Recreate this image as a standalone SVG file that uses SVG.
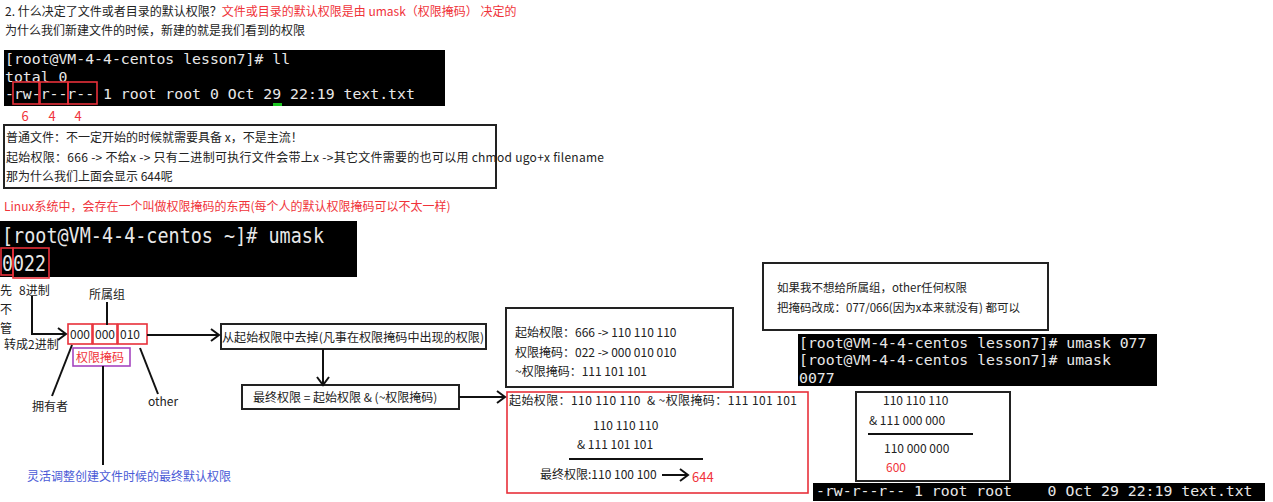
<svg xmlns="http://www.w3.org/2000/svg" width="1273" height="502" viewBox="0 0 1273 502">
<style>
.t{font-family:"Noto Sans CJK SC","Noto Sans",sans-serif;font-size:12px;fill:#222;white-space:pre}
.s{font-size:11.5px}
.n{font-size:13px}
.red{fill:#f0333a}
.blue{fill:#4a5ad6}
.term{fill:#000}
.mono{font-family:"DejaVu Sans Mono","Liberation Mono",monospace;font-size:14.8px;fill:#e8e8e8;white-space:pre}
.box{fill:#fff;stroke:#222;stroke-width:2}
.rbox{fill:none;stroke:#e8303a;stroke-width:1.6}
.ln{stroke:#111;stroke-width:2;fill:none}
</style>
<defs>
<marker id="ch" markerUnits="userSpaceOnUse" markerWidth="12" markerHeight="14" refX="10" refY="7" orient="auto">
<path d="M2,1 L10,7 L2,13" fill="none" stroke="#111" stroke-width="2"/>
</marker>
</defs>
<rect width="1273" height="502" fill="#fff"/>

<g id="title">
<text class="t" x="5" y="16">2. 什么决定了文件或者目录的默认权限？<tspan class="red">文件或目录的默认权限是由 umask（权限掩码） 决定的</tspan></text>
<text class="t" x="5" y="35">为什么我们新建文件的时候，新建的就是我们看到的权限</text>
</g>

<g id="terminal1">
<rect class="term" x="4" y="50" width="441" height="56"/>
<text class="mono" x="5" y="64">[root@VM-4-4-centos lesson7]# ll</text>
<text class="mono" x="5" y="82">total 0</text>
<text class="mono" x="5" y="99">-rw-r--r-- 1 root root 0 Oct 29 22:19 text.txt</text>
<rect x="273" y="103" width="9" height="3" fill="#19c21f"/>
<rect class="rbox" x="13" y="82" width="26" height="22"/>
<rect class="rbox" x="40" y="82" width="28" height="22"/>
<rect class="rbox" x="68" y="82" width="29" height="22"/>
<text class="t n red" x="25" y="121" text-anchor="middle">6</text>
<text class="t n red" x="52" y="121" text-anchor="middle">4</text>
<text class="t n red" x="78" y="121" text-anchor="middle">4</text>
</g>

<g id="note1">
<rect class="box" x="4" y="125" width="492" height="63"/>
<text class="t" x="6" y="142">普通文件：不一定开始的时候就需要具备 x，不是主流！</text>
<text class="t" x="6" y="162" textLength="598" lengthAdjust="spacing">起始权限：666 -&gt; 不给x -&gt; 只有二进制可执行文件会带上x -&gt;其它文件需要的也可以用 chmod ugo+x filename</text>
<text class="t" x="6" y="181">那为什么我们上面会显示 644呢</text>
</g>

<g id="linux-note">
<text class="t red" x="4" y="211">Linux系统中，会存在一个叫做权限掩码的东西(每个人的默认权限掩码可以不太一样)</text>
</g>

<g id="terminal2">
<rect class="term" x="0" y="221" width="357" height="56"/>
<text class="mono" x="2" y="243" style="font-size:22px" textLength="322" lengthAdjust="spacingAndGlyphs">[root@VM-4-4-centos ~]# umask</text>
<text class="mono" x="2" y="271" style="font-size:22px" textLength="44" lengthAdjust="spacingAndGlyphs">0022</text>
<rect class="rbox" x="1" y="248" width="12" height="27"/>
<rect class="rbox" x="13" y="248" width="36" height="30"/>
</g>

<g id="labels-left">
<text class="t" x="0" y="295">先</text>
<text class="t" x="0" y="314">不</text>
<text class="t" x="0" y="333">管</text>
<text class="t" x="19" y="295">8进制</text>
<text class="t" x="4" y="349">转成2进制</text>
<text class="t" x="89" y="299">所属组</text>
<text class="t" x="32" y="411">拥有者</text>
<text class="t" x="148" y="406">other</text>
<text class="t blue" x="27" y="481">灵活调整创建文件时候的最终默认权限</text>
</g>

<g id="mask-bits">
<rect class="rbox" x="68" y="324" width="24" height="20"/>
<rect class="rbox" x="93" y="324" width="24" height="20"/>
<rect class="rbox" x="118" y="324" width="29" height="20"/>
<text class="t" x="70" y="339">000</text>
<text class="t" x="95" y="339">000</text>
<text class="t" x="120" y="339">010</text>
<rect x="73" y="348" width="57" height="18" fill="none" stroke="#a545c0" stroke-width="1.6"/>
<text class="t red" x="76" y="362">权限掩码</text>
</g>

<g id="remove-box">
<rect class="box" x="221" y="324" width="265" height="25"/>
<text class="t" x="222" y="342" textLength="262" lengthAdjust="spacingAndGlyphs">从起始权限中去掉(凡事在权限掩码中出现的权限)</text>
</g>

<g id="final-box">
<rect class="box" x="242" y="385" width="217" height="24"/>
<text class="t" x="253" y="402">最终权限 = 起始权限 &amp; (~权限掩码)</text>
</g>

<g id="calc-box">
<rect class="box" x="506" y="308" width="227" height="79"/>
<text class="t" x="515" y="337">起始权限：666 -&gt; 110 110 110</text>
<text class="t" x="515" y="357">权限掩码：022 -&gt; 000 010 010</text>
<text class="t" x="515" y="376">~权限掩码：111 101 101</text>
</g>

<g id="result-box">
<rect class="rbox" x="507" y="392" width="301" height="101"/>
<text class="t" x="509" y="405" textLength="288" lengthAdjust="spacing">起始权限：110 110 110  &amp; ~权限掩码：111 101 101</text>
<text class="t" x="593" y="430">110 110 110</text>
<text class="t" x="577" y="449">&amp; 111 101 101</text>
<line class="ln" x1="569" y1="459" x2="703" y2="459"/>
<text class="t" x="540" y="479">最终权限:110 100 100</text>
<text class="t n red" x="692" y="482">644</text>
</g>

<g id="note2">
<rect class="box" x="763" y="263" width="285" height="67"/>
<text class="t s" x="777" y="292">如果我不想给所属组，other任何权限</text>
<text class="t s" x="777" y="312">把掩码改成：077/066(因为x本来就没有) 都可以</text>
</g>

<g id="terminal3">
<rect class="term" x="798" y="334" width="359" height="52"/>
<text class="mono" x="799" y="348">[root@VM-4-4-centos lesson7]# umask 077</text>
<text class="mono" x="799" y="365">[root@VM-4-4-centos lesson7]# umask</text>
<text class="mono" x="799" y="383">0077</text>
</g>

<g id="calc2-box">
<rect class="box" x="856" y="392" width="154" height="89"/>
<text class="t" x="883" y="405">110 110 110</text>
<text class="t" x="869" y="425">&amp; 111 000 000</text>
<line class="ln" x1="868" y1="434" x2="973" y2="434"/>
<text class="t" x="884" y="453">110 000 000</text>
<text class="t red" x="886" y="472">600</text>
</g>

<g id="terminal4">
<rect class="term" x="813" y="483" width="452" height="18"/>
<text class="mono" x="816" y="496">-rw-r--r-- 1 root root    0 Oct 29 22:19 text.txt</text>
</g>

<g id="connectors">
<polyline class="ln" points="32,296 32,334 66,334" marker-end="url(#ch)"/>
<line class="ln" x1="107" y1="302" x2="107" y2="325"/>
<line class="ln" x1="72" y1="345" x2="52" y2="396"/>
<line class="ln" x1="140" y1="348" x2="158" y2="394"/>
<line class="ln" x1="103" y1="366" x2="103" y2="465"/>
<line class="ln" x1="147" y1="335" x2="219" y2="335" marker-end="url(#ch)"/>
<line class="ln" x1="323" y1="349" x2="323" y2="385" marker-end="url(#ch)"/>
<line class="ln" x1="459" y1="397" x2="505" y2="397" marker-end="url(#ch)"/>
<line class="ln" x1="662" y1="475" x2="688" y2="475" marker-end="url(#ch)"/>
</g>
</svg>
